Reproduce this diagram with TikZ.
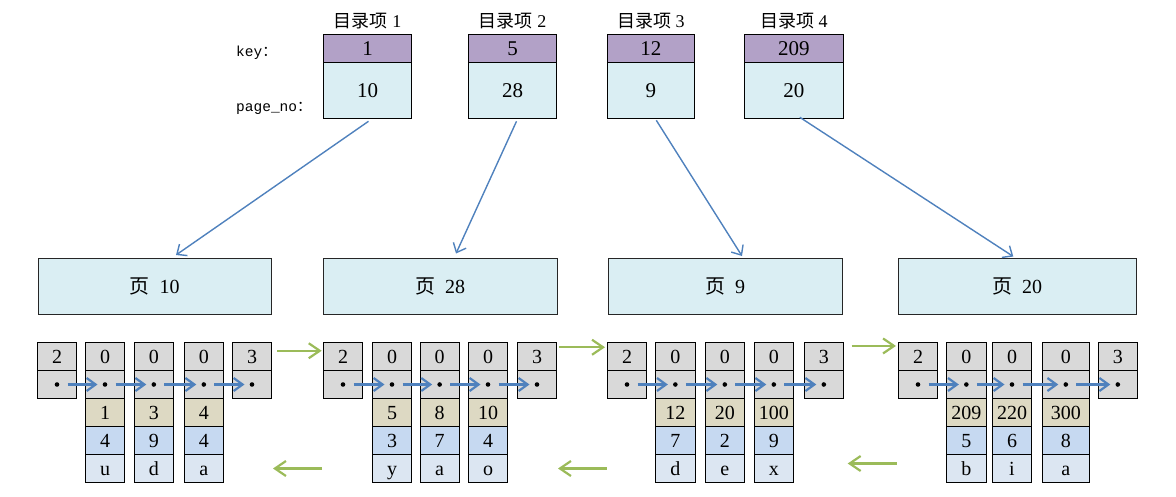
\documentclass[tikz,border=0pt]{standalone}
\usepackage{fontspec}
\setmainfont{Liberation Serif}
\newfontfamily\cjk{Noto Sans CJK SC}
\newfontfamily\monof{Liberation Mono}
\usetikzlibrary{arrows.meta}
\definecolor{cgrey}{HTML}{D9D9D9}
\definecolor{ctan}{HTML}{DDD9C3}
\definecolor{cblue}{HTML}{C6D9F1}
\definecolor{clight}{HTML}{DCE6F2}
\definecolor{cpage}{HTML}{DAEEF3}
\definecolor{cpurple}{HTML}{B2A1C7}
\definecolor{linkblue}{HTML}{4F81BD}
\definecolor{linkgreen}{HTML}{9BBB59}
\tikzset{
  cellb/.style={draw=black, line width=0.8pt, inner sep=0pt, outer sep=0pt,
    font=\fontsize{20}{22}\selectfont, text height=13.5pt, text depth=0pt},
  entryb/.style={draw=black, line width=0.9pt, inner sep=0pt, outer sep=0pt,
    font=\fontsize{21}{24}\selectfont, text height=14pt, text depth=0pt},
  pageb/.style={draw=black!85, line width=0.9pt, inner sep=0pt, outer sep=0pt,
    font=\fontsize{20}{22}\selectfont, text height=14pt, text depth=0pt},
  dotn/.style={circle, fill=black, inner sep=0pt, minimum size=4.6pt},
  dlink/.style={draw=linkblue, line width=2.2pt, -{Straight Barb[length=9pt,width=13pt]},
    shorten <=8pt, shorten >=5pt},
  toplink/.style={draw=linkblue, line width=1.4pt, -{Straight Barb[length=8pt,width=14pt]}},
  glink/.style={draw=linkgreen, line width=2.2pt, -{Straight Barb[length=11pt,width=15pt]}},
  title/.style={font=\fontsize{18}{20}\selectfont},
  rowlabel/.style={font=\monof\fontsize{14.5}{16}\selectfont, anchor=base west, inner sep=0pt}
}
% style, name, x1, x2, y1, y2, fill, text
\newcommand\mkcell[8]{%
  \node[#1, fill=#7, minimum width={#4-#3}, minimum height={#6-#5}] (#2) at ({(#3+#4)/2},{(#5+#6)/2}) {#8};}
% record column: name x1 x2 key val char
\newcommand\reccol[6]{%
  \mkcell{cellb}{#1-0}{#2}{#3}{342}{370.5}{cgrey}{0}
  \mkcell{cellb}{#1-1}{#2}{#3}{370.5}{398.5}{cgrey}{}
  \mkcell{cellb}{#1-2}{#2}{#3}{398.5}{426.5}{ctan}{#4}
  \mkcell{cellb}{#1-3}{#2}{#3}{426.5}{454.5}{cblue}{#5}
  \mkcell{cellb}{#1-4}{#2}{#3}{454.5}{482.5}{clight}{#6}
  \node[dotn] (#1-d) at (#1-1.center) {};}
% boundary column: name x1 x2 label
\newcommand\bndcol[4]{%
  \mkcell{cellb}{#1-0}{#2}{#3}{342}{370.5}{cgrey}{#4}
  \mkcell{cellb}{#1-1}{#2}{#3}{370.5}{398.5}{cgrey}{}
  \node[dotn] (#1-d) at (#1-1.center) {};}
% directory entry: name x1 x2 key page title
\newcommand\direntry[6]{%
  \mkcell{entryb}{#1k}{#2}{#3}{34.3}{62}{cpurple}{#4}
  \mkcell{entryb}{#1p}{#2}{#3}{62}{118.3}{cpage}{#5}
  \node[title] (#1t) at ({(#2+#3)/2},21) {{\cjk 目录项}\ #6};}
\begin{document}
\begin{tikzpicture}[x=1pt,y=-1pt]
\useasboundingbox (0,0) rectangle (1176,496);

% row labels
\node[rowlabel] (lkey) at (236,56) {key{\cjk ：}};
\node[rowlabel] (lpage) at (236,111) {page\_no{\cjk ：}};

% directory entries
\direntry{e1}{323.3}{411.7}{1}{10}{1}
\direntry{e2}{468.3}{556.7}{5}{28}{2}
\direntry{e3}{607.3}{694.3}{12}{9}{3}
\direntry{e4}{744.3}{843.3}{209}{20}{4}

% pages
\mkcell{pageb}{p10}{38}{271}{258.5}{314}{cpage}{{\cjk 页}\ \ 10}
\mkcell{pageb}{p28}{323}{557}{258.5}{314}{cpage}{{\cjk 页}\ \ 28}
\mkcell{pageb}{p9}{608}{842}{258.5}{314}{cpage}{{\cjk 页}\ \ 9}
\mkcell{pageb}{p20}{898}{1136}{258.5}{314}{cpage}{{\cjk 页}\ \ 20}

% entry -> page arrows
\draw[toplink] ([xshift=1pt,yshift=-3pt]e1p.south) -- ([xshift=21.5pt,yshift=3.5pt]p10.north);
\draw[toplink] ([xshift=4pt,yshift=-3pt]e2p.south) -- ([xshift=16pt,yshift=5pt]p28.north);
\draw[toplink] ([xshift=5.5pt,yshift=-2pt]e3p.south) -- ([xshift=17pt,yshift=2.5pt]p9.north);
\draw[toplink] ([xshift=6pt,yshift=1pt]e4p.south) -- ([xshift=-3.7pt,yshift=2pt]p20.north);

% group 1
\bndcol{g1i}{37.3}{76.7}{2}
\reccol{g1a}{85.7}{124.3}{1}{4}{u}
\reccol{g1b}{134.3}{173.3}{3}{9}{d}
\reccol{g1c}{184.3}{223.3}{4}{4}{a}
\bndcol{g1s}{232.3}{271.7}{3}
% group 2
\bndcol{g2i}{323.3}{362.7}{2}
\reccol{g2a}{372.3}{411.7}{5}{3}{y}
\reccol{g2b}{420}{459.3}{8}{7}{a}
\reccol{g2c}{468.3}{507.7}{10}{4}{o}
\bndcol{g2s}{517.3}{556.7}{3}
% group 3
\bndcol{g3i}{607.3}{646.7}{2}
\reccol{g3a}{655.7}{695}{12}{7}{d}
\reccol{g3b}{705.3}{744.3}{20}{2}{e}
\reccol{g3c}{754.3}{793.3}{100}{9}{x}
\bndcol{g3s}{804.3}{843.3}{3}
% group 4
\bndcol{g4i}{898.3}{937.7}{2}
\reccol{g4a}{946.7}{986}{209}{5}{b}
\reccol{g4b}{992.3}{1031.7}{220}{6}{i}
\reccol{g4c}{1042.3}{1089.3}{300}{8}{a}
\bndcol{g4s}{1098.3}{1137.3}{3}

% record links
\foreach \g in {1,2,3,4} {
  \draw[dlink] (g\g i-d) -- (g\g a-d);
  \draw[dlink] (g\g a-d) -- (g\g b-d);
  \draw[dlink] (g\g b-d) -- (g\g c-d);
  \draw[dlink] (g\g c-d) -- (g\g s-d);
}

% page links (forward)
\draw[glink] ([xshift=5.3pt,yshift=5.5pt]g1s-0.east) -- ([xshift=-1.6pt,yshift=5.5pt]g2i-0.west);
\draw[glink] ([xshift=2.3pt,yshift=9pt]g2s-0.east) -- ([xshift=-2.3pt,yshift=9pt]g3i-0.west);
\draw[glink] ([xshift=8.4pt,yshift=10.3pt]g3s-0.east) -- ([xshift=-2.3pt,yshift=10.3pt]g4i-0.west);
% page links (backward)
\draw[glink] ([xshift=-1.3pt]g2i-0.west |- g2a-4.center) -- ([xshift=1.3pt]g1s-0.east |- g1c-4.center);
\draw[glink] ([xshift=-0.6pt]g3i-0.west |- g3a-4.center) -- ([xshift=1.3pt]g2s-0.east |- g2c-4.center);
\draw[glink] ([xshift=-1.6pt,yshift=5pt]g4i-0.west |- g4a-4.center) -- ([xshift=4.4pt,yshift=5pt]g3s-0.east |- g3c-4.center);
\end{tikzpicture}
\end{document}
